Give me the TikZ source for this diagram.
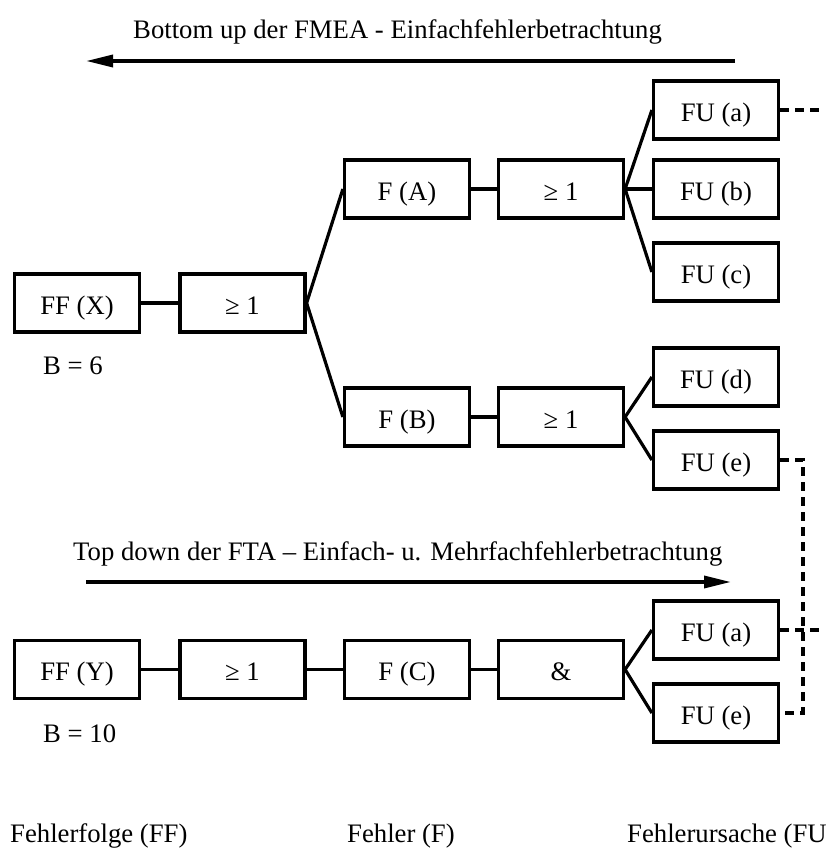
\documentclass[tikz,border=0pt]{standalone}
\usepackage{fontspec}
\setmainfont{Liberation Serif}
\usetikzlibrary{arrows.meta}

\begin{document}
\begin{tikzpicture}[x=1pt,y=-1pt,
  font=\fontsize{26.7}{32}\selectfont,
  box/.style={draw,line width=3.2pt,rectangle,inner sep=0pt,
              text height=22pt,text depth=0pt,
              minimum width=125pt,minimum height=58pt},
  link/.style={line width=3.2pt},
  fulink/.style={line width=3.2pt,dash pattern=on 9pt off 6pt},
  flow/.style={line width=3.4pt,-{Triangle[length=27pt,width=12pt]}},
  lbl/.style={inner sep=0pt,anchor=base west}]
  \useasboundingbox (0,0) rectangle (825,851);

  % headline arrows
  \node[lbl] (tup) at (133,39) {Bottom up der FMEA - Einfachfehlerbetrachtung};
  \coordinate (upA) at (735,61);
  \coordinate (upB) at (86,61);
  \draw[flow] (upA) -- (upB);

  \node[lbl] (tdown) at (73,560) {Top down der FTA – Einfach- u. Mehrfachfehlerbetrachtung};
  \coordinate (dnA) at (86,582);
  \coordinate (dnB) at (731,582);
  \draw[flow] (dnA) -- (dnB);

  % upper tree (FMEA)
  \node[box] (ffx) at (77,303) {FF (X)};
  \node[box] (g0)  at (242.5,303) {≥ 1};
  \node[box] (fa)  at (407,189) {F (A)};
  \node[box] (ga)  at (561,189) {≥ 1};
  \node[box] (fua) at (716,110) {FU (a)};
  \node[box] (fub) at (716,189) {FU (b)};
  \node[box] (fuc) at (716,272) {FU (c)};
  \node[box] (fb)  at (407,417) {F (B)};
  \node[box] (gb)  at (561,417) {≥ 1};
  \node[box] (fud) at (716,377) {FU (d)};
  \node[box] (fue) at (716,460) {FU (e)};
  \node[lbl] (bx) at (43,374) {B = 6};

  \draw[link] (ffx.east) -- (g0.west);
  \draw[link] (g0.east) -- (fa.west);
  \draw[link] (g0.east) -- (fb.west);
  \draw[link] (fa.east) -- (ga.west);
  \draw[link] (fb.east) -- (gb.west);
  \draw[link] (ga.east) -- (fua.west);
  \draw[link] (ga.east) -- (fub.west);
  \draw[link] (ga.east) -- (fuc.west);
  \draw[link] (gb.east) -- (fud.west);
  \draw[link] (gb.east) -- (fue.west);

  % lower tree (FTA)
  \node[box] (ffy) at (77,669.5) {FF (Y)};
  \node[box] (g1)  at (242.5,669.5) {≥ 1};
  \node[box] (fc)  at (407,669.5) {F (C)};
  \node[box] (gand) at (561,669.5) {\&};
  \node[box] (fua2) at (716,630) {FU (a)};
  \node[box] (fue2) at (716,713) {FU (e)};
  \node[lbl] (by) at (43,742) {B = 10};

  \draw[link] (ffy.east) -- (g1.west);
  \draw[link] (g1.east) -- (fc.west);
  \draw[link] (fc.east) -- (gand.west);
  \draw[link] (gand.east) -- (fua2.west);
  \draw[link] (gand.east) -- (fue2.west);

  % dashed cross references between the trees
  \coordinate (outa) at (825,110);
  \coordinate (outa2) at (825,630);
  \draw[fulink] (fua.east) -- (outa);
  \draw[fulink] (fua2.east) -- (outa2);
  \draw[fulink] (fue.east) -| (803,713) -- (fue2.east);

  % column captions
  \node[lbl] (cff) at (10,842) {Fehlerfolge (FF)};
  \node[lbl] (cf)  at (347,842) {Fehler (F)};
  \node[lbl] (cfu) at (627,842) {Fehlerursache (FU};
\end{tikzpicture}
\end{document}
